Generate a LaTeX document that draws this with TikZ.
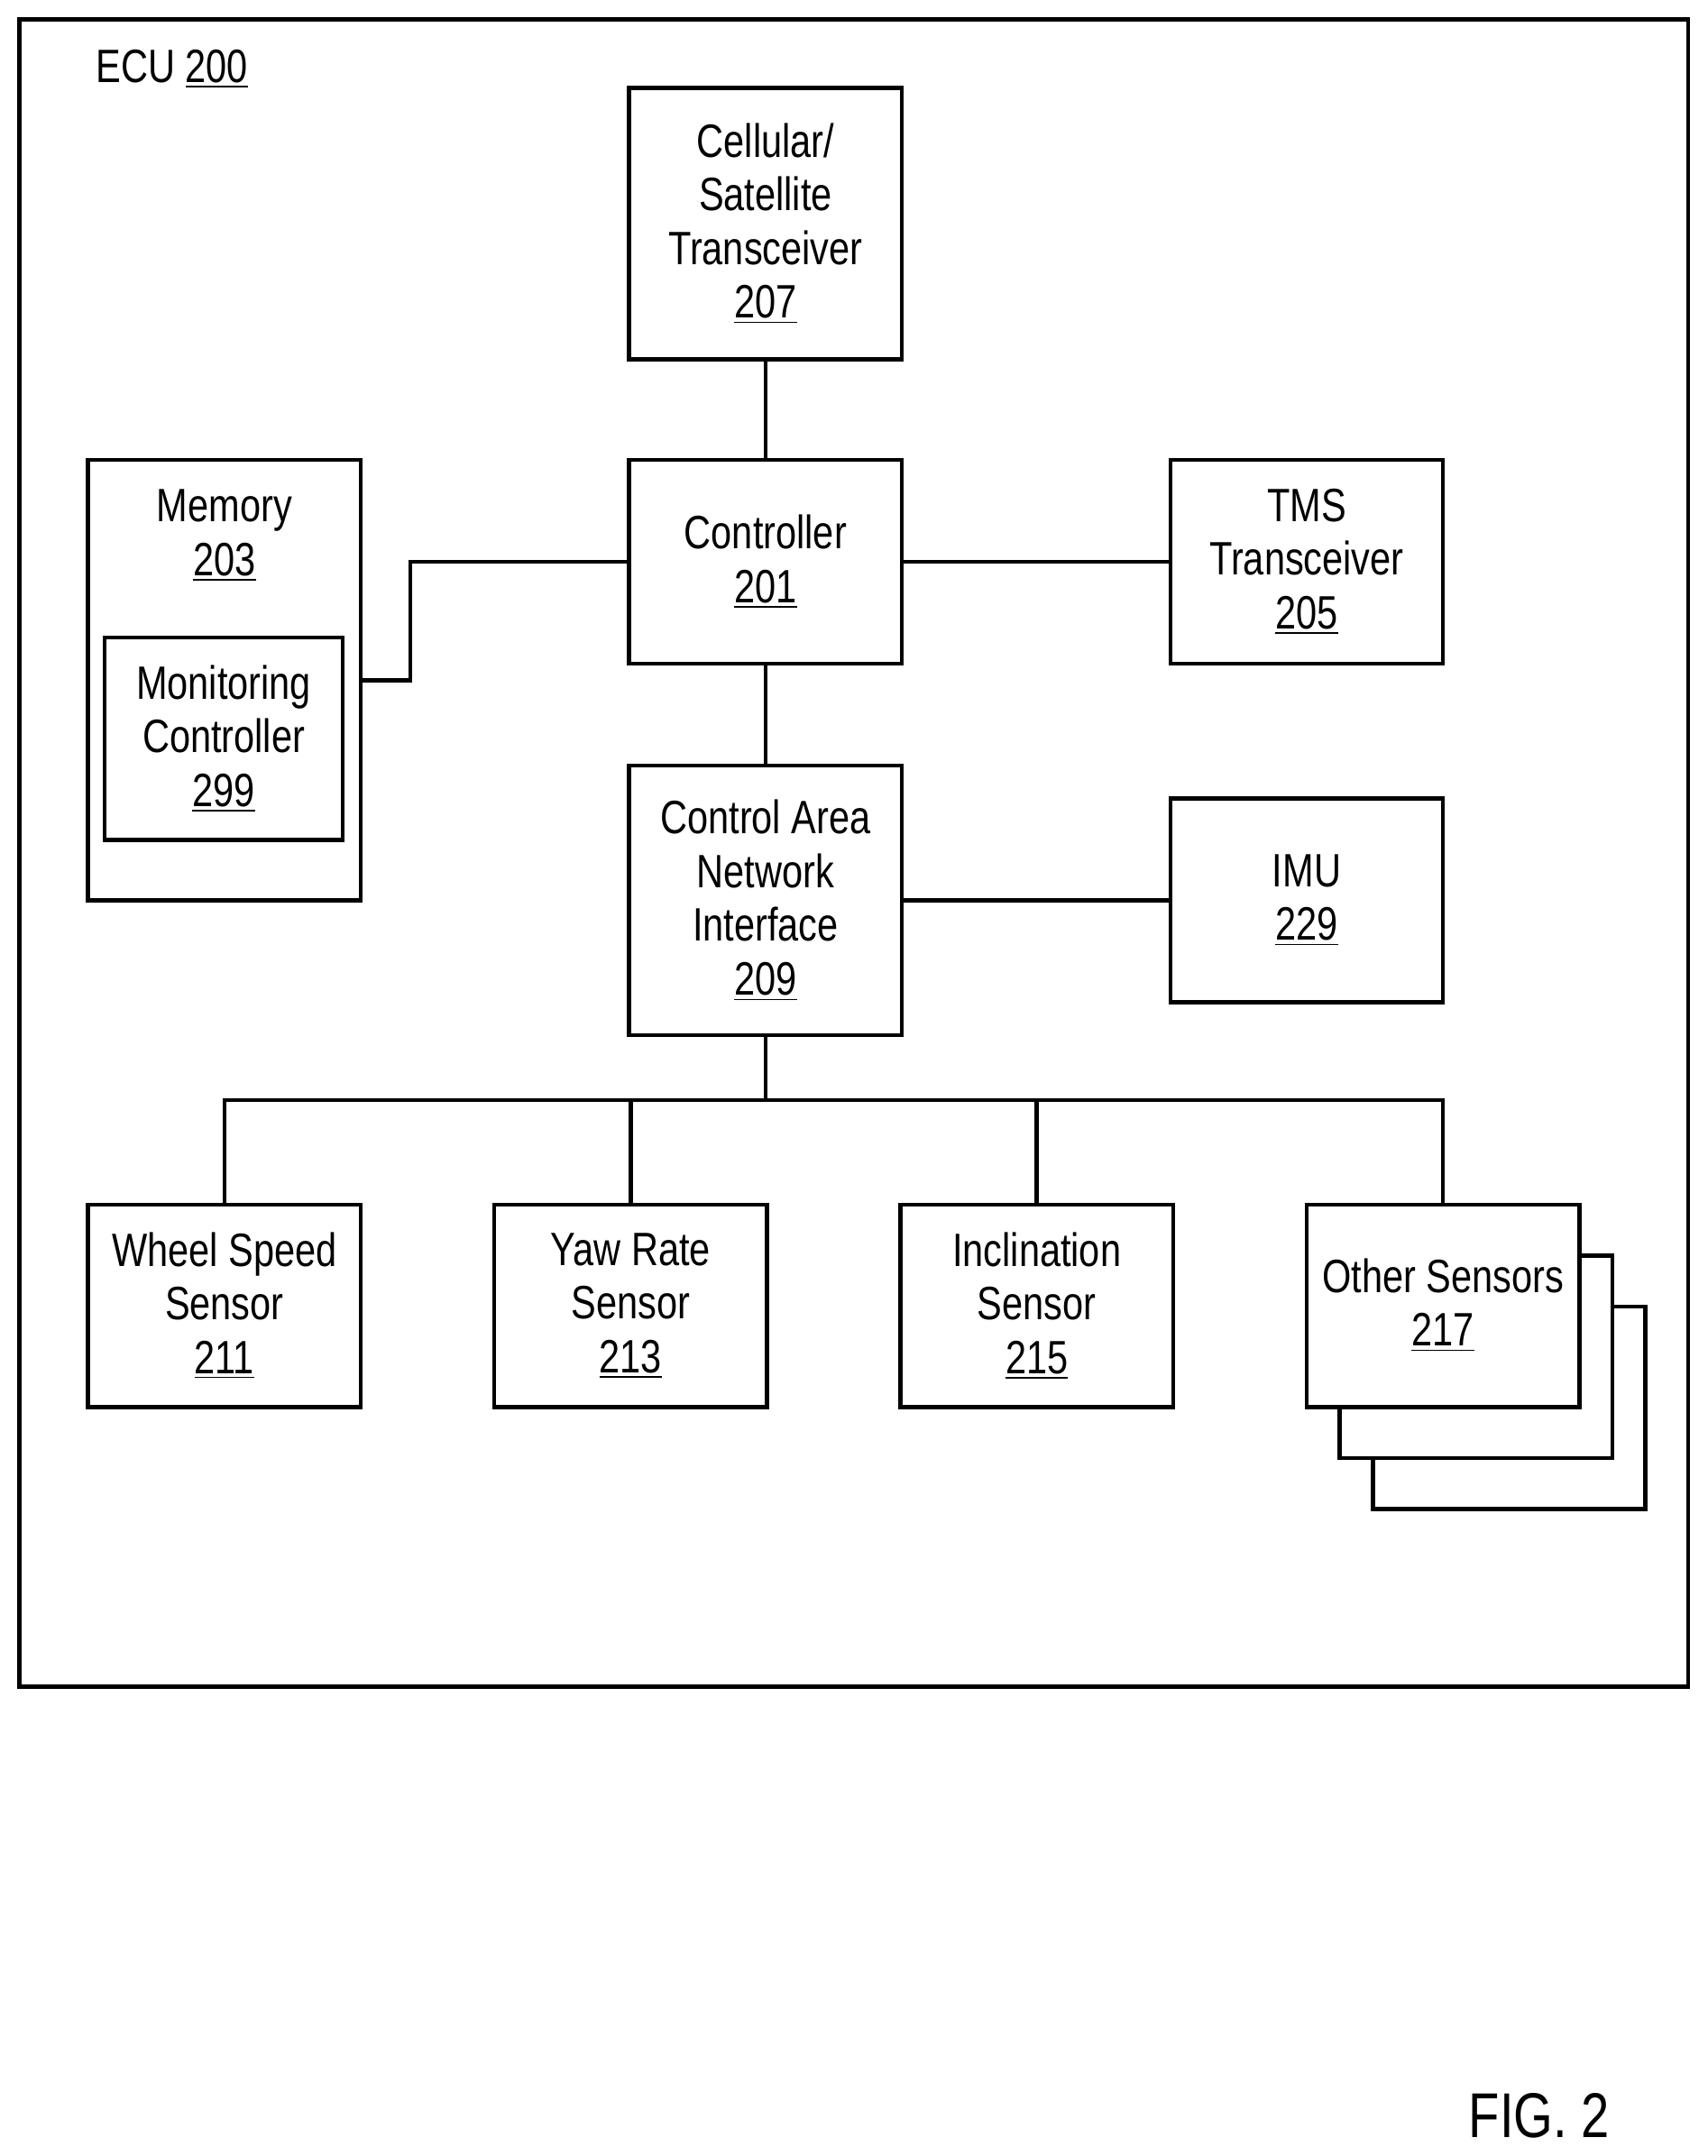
\documentclass[tikz,border=0pt]{standalone}
\usepackage{fontspec}
\setmainfont{Liberation Sans}[FakeStretch=0.8]
\begin{document}
\begin{tikzpicture}[x=0.5pt,y=-0.5pt,
  box/.style={draw,line width=1.5pt,fill=white},
  lbl/.style={align=center,font=\fontsize{17}{19.5}\selectfont,inner sep=0},
  ln/.style={line width=1.5pt}]
\useasboundingbox (0,0) rectangle (1240,1566);
\draw[ln] (14,14) rectangle (1226,1225);
\node[lbl] (ecu) at (125,50) {ECU \underline{200}};
% boxes
\draw[box] (997,949) rectangle (1195,1096);
\draw[box] (973,912) rectangle (1171,1059);
\node[box,minimum width=99pt,minimum height=98.5pt] (cell) at (556,162.5) {};
\node[lbl] at (cell) {Cellular/\\Satellite\\Transceiver\\\underline{207}};
\node[box,minimum width=99pt,minimum height=74pt] (ctrl) at (556,408) {};
\node[lbl] at (ctrl) {Controller\\\underline{201}};
\node[box,minimum width=99pt,minimum height=160pt] (mem) at (163,494) {};
\node[lbl] at (163,389) {Memory\\\underline{203}};
\node[box,minimum width=86.5pt,minimum height=73.5pt] (mon) at (162.5,536.5) {};
\node[lbl] at (mon) {Monitoring\\Controller\\\underline{299}};
\node[box,minimum width=99pt,minimum height=74pt] (tms) at (949,408) {};
\node[lbl] at (tms) {TMS\\Transceiver\\\underline{205}};
\node[box,minimum width=99pt,minimum height=98pt] (can) at (556,654) {};
\node[lbl] at (can) {Control Area\\Network\\Interface\\\underline{209}};
\node[box,minimum width=99pt,minimum height=74pt] (imu) at (949,654) {};
\node[lbl] at (imu) {IMU\\\underline{229}};
\node[box,minimum width=99pt,minimum height=73.5pt] (ws) at (163,948.5) {};
\node[lbl] at (ws) {Wheel Speed\\Sensor\\\underline{211}};
\node[box,minimum width=99pt,minimum height=73.5pt] (yaw) at (458,948.5) {};
\node[lbl] at (yaw) {Yaw Rate\\Sensor\\\underline{213}};
\node[box,minimum width=99pt,minimum height=73.5pt] (inc) at (753,948.5) {};
\node[lbl] at (inc) {Inclination\\Sensor\\\underline{215}};
\node[box,minimum width=99pt,minimum height=73.5pt] (oth) at (1048,948.5) {};
\node[lbl] at (1048,948) {Other Sensors\\\underline{217}};
% connectors
\draw[ln] (cell.south) -- (ctrl.north);
\draw[ln] (ctrl.south) -- (can.north);
\draw[ln] (ctrl.east) -- (tms.west);
\draw[ln] (can.east) -- (imu.west);
\draw[ln] (mem.east) -- (298,494) -- (298,408) -- (ctrl.west);
\coordinate (bus) at (556,799);
\draw[ln] (can.south) -- (bus);
\draw[ln] (ws.north) |- (bus);
\draw[ln] (yaw.north) |- (bus);
\draw[ln] (inc.north) |- (bus);
\draw[ln] (oth.north) |- (bus);
\node[lbl,font=\fontsize{23}{26}\selectfont] (fig) at (1118,1537) {FIG. 2};
\end{tikzpicture}
\end{document}
